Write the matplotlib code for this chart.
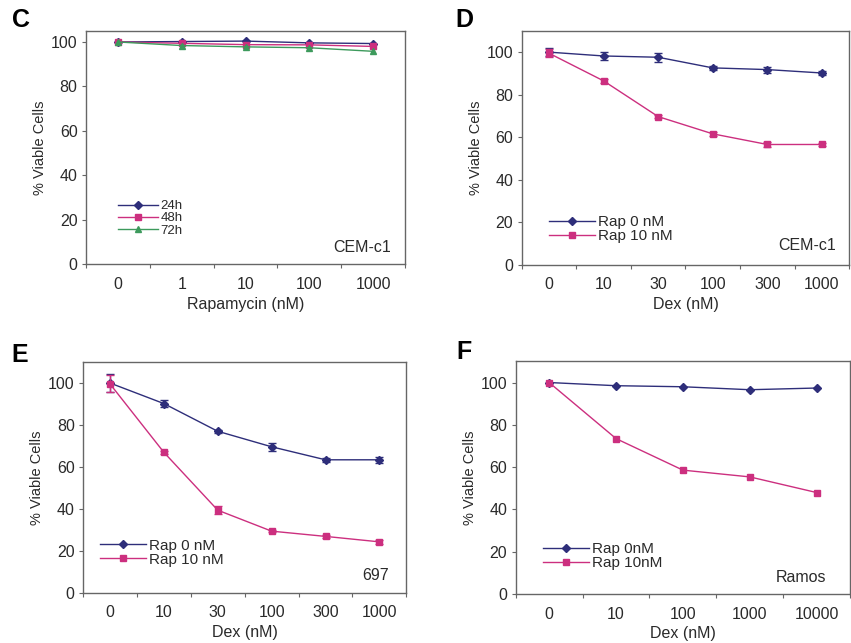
import numpy as np
import matplotlib.pyplot as plt

plt.rcParams['font.family'] = ['Liberation Sans', 'DejaVu Sans']

# panel C: rapamycin alone, CEM-c1
rapa_labels = ['0', '1', '10', '100', '1000']
rapa_24h = [100, 100.2, 100.4, 99.6, 99.3]
rapa_48h = [100, 99.4, 98.8, 98.7, 98.0]
rapa_72h = [100, 98.4, 97.8, 97.4, 95.8]

# panel D: dex +/- rap, CEM-c1
dex_labels_d = ['0', '10', '30', '100', '300', '1000']
d_rap0 = [100, 98.2, 97.6, 92.6, 91.8, 90.2]
d_rap0_err = [2.0, 1.8, 2.2, 0.8, 1.4, 0.8]
d_rap10 = [99.5, 86.5, 69.7, 61.6, 56.6, 56.6]
d_rap10_err = [1.8, 1.0, 0.6, 0.8, 1.0, 0.8]

# panel E: dex +/- rap, 697
dex_labels_e = ['0', '10', '30', '100', '300', '1000']
e_rap0 = [100, 90.2, 77.0, 69.6, 63.4, 63.4]
e_rap0_err = [4.5, 1.5, 0.8, 2.0, 1.0, 1.5]
e_rap10 = [99.6, 67.0, 39.4, 29.4, 26.9, 24.3]
e_rap10_err = [4.0, 0.6, 1.8, 0.6, 0.6, 0.8]

# panel F: dex +/- rap, Ramos
dex_labels_f = ['0', '10', '100', '1000', '10000']
f_rap0 = [100, 98.5, 98.0, 96.6, 97.4]
f_rap10 = [100, 73.5, 58.6, 55.4, 48.0]

NAVY = '#2e2e7a'
MAGENTA = '#cc2f7f'
GREEN = '#3d9a5c'
FRAME = '#666666'
TXT = '#2a2a2a'


def style_axes(ax, labels, ymax, xlabel):
    n = len(labels)
    ax.set_xlim(-0.5, n - 0.5)
    ax.set_ylim(0, ymax)
    ax.set_yticks([0, 20, 40, 60, 80, 100])
    # Excel-style: ticks between categories, labels at centres
    ax.set_xticks(np.arange(n + 1) - 0.5)
    ax.set_xticklabels([])
    ax.set_xticks(np.arange(n), minor=True)
    ax.set_xticklabels(labels, minor=True)
    ax.tick_params(axis='x', which='minor', length=0, pad=9, labelsize=11.5, colors=TXT)
    ax.tick_params(axis='x', which='major', length=3, color=FRAME)
    ax.tick_params(axis='y', length=3, color=FRAME, labelsize=11.5, labelcolor=TXT, pad=3)
    for s in ax.spines.values():
        s.set_color(FRAME)
        s.set_linewidth(1.0)
    ax.set_xlabel(xlabel, fontsize=11.5, color=TXT, labelpad=3.5)
    ax.set_ylabel('% Viable Cells', fontsize=10.5, color=TXT, labelpad=3)


def add_series(ax, y, err, color, marker, ms, label):
    x = np.arange(len(y))
    if err is not None:
        ax.errorbar(x, y, yerr=err, fmt='none', ecolor=color, elinewidth=1, capsize=3)
    ax.plot(x, y, color=color, marker=marker, ms=ms, lw=1, label=label)


def add_legend(ax, x0, y0, fs=11, spacing=0.0):
    ax.legend(loc='lower left', bbox_to_anchor=(x0, y0), frameon=False, fontsize=fs,
              labelspacing=spacing, handlelength=3.0, handletextpad=0.2, borderpad=0,
              labelcolor=TXT)


fig = plt.figure(figsize=(8.51, 6.43), dpi=100)

# C
axC = fig.add_axes([0.101, 0.589, 0.375, 0.363])
add_series(axC, rapa_24h, None, NAVY, 'D', 4, '24h')
add_series(axC, rapa_48h, None, MAGENTA, 's', 4.5, '48h')
add_series(axC, rapa_72h, None, GREEN, '^', 5, '72h')
style_axes(axC, rapa_labels, 105, 'Rapamycin (nM)')
add_legend(axC, 0.08, 0.09, fs=9.5, spacing=0.0)
axC.text(0.955, 0.07, 'CEM-c1', transform=axC.transAxes, ha='right', va='center', fontsize=11.5, color=TXT)

# D
axD = fig.add_axes([0.613, 0.588, 0.385, 0.364])
add_series(axD, d_rap0, d_rap0_err, NAVY, 'D', 4, 'Rap 0 nM')
add_series(axD, d_rap10, d_rap10_err, MAGENTA, 's', 4.5, 'Rap 10 nM')
style_axes(axD, dex_labels_d, 110, 'Dex (nM)')
add_legend(axD, 0.06, 0.06)
axD.text(0.96, 0.085, 'CEM-c1', transform=axD.transAxes, ha='right', va='center', fontsize=11.5, color=TXT)

# E
axE = fig.add_axes([0.0975, 0.078, 0.38, 0.359])
add_series(axE, e_rap0, e_rap0_err, NAVY, 'D', 4, 'Rap 0 nM')
add_series(axE, e_rap10, e_rap10_err, MAGENTA, 's', 4.5, 'Rap 10 nM')
style_axes(axE, dex_labels_e, 110, 'Dex (nM)')
add_legend(axE, 0.03, 0.08)
axE.text(0.945, 0.075, '697', transform=axE.transAxes, ha='right', va='center', fontsize=11.5, color=TXT)

# F
axF = fig.add_axes([0.606, 0.076, 0.393, 0.362])
add_series(axF, f_rap0, None, NAVY, 'D', 4, 'Rap 0nM')
add_series(axF, f_rap10, None, MAGENTA, 's', 4.5, 'Rap 10nM')
style_axes(axF, dex_labels_f, 110, 'Dex (nM)')
add_legend(axF, 0.06, 0.07)
axF.text(0.93, 0.07, 'Ramos', transform=axF.transAxes, ha='right', va='center', fontsize=11.5, color=TXT)

# panel letters
for lab, px, py in [('C', 12, 20), ('D', 455, 20), ('E', 11, 355), ('F', 456, 352)]:
    fig.text(px / 851, 1 - py / 643, lab, fontsize=18, fontweight='bold', ha='left', va='center')

fig.savefig('out.png', dpi=100)
